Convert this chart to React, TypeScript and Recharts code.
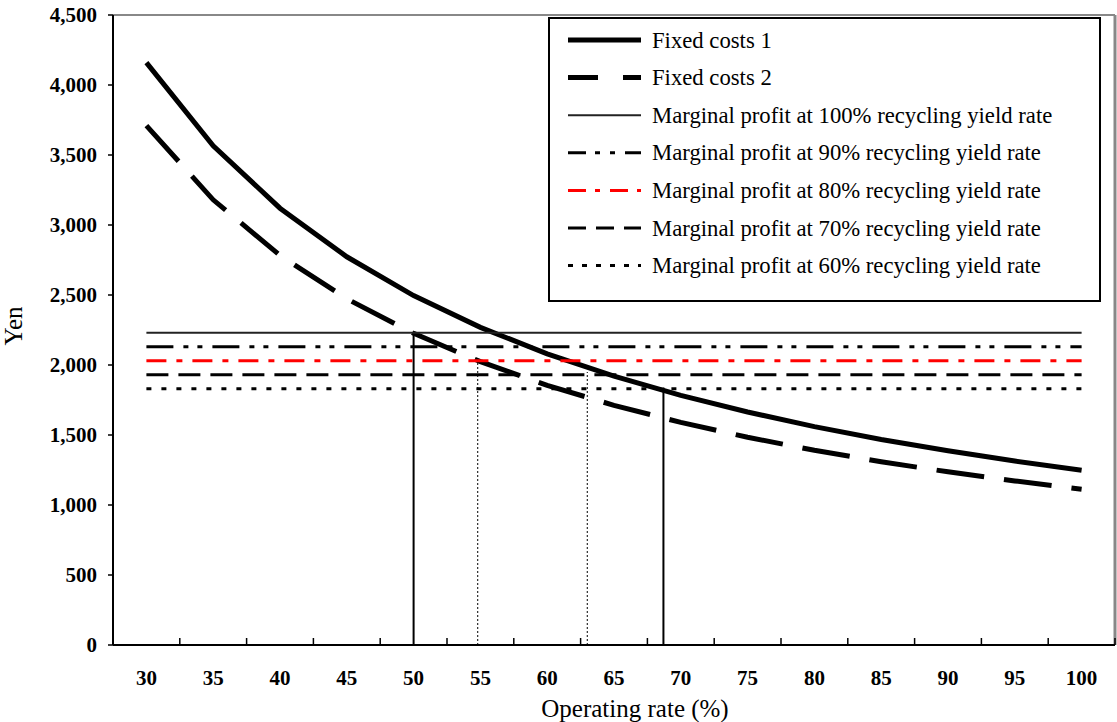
import React from "react";

// charts
import { LineChart, Line, XAxis, YAxis, ReferenceLine, Legend } from "recharts";

const rates = [30, 35, 40, 45, 50, 55, 60, 65, 70, 75, 80, 85, 90, 95, 100];
const fixedCosts1 = [4160, 3566, 3120, 2773, 2496, 2269, 2080, 1920, 1783, 1664, 1560, 1468, 1387, 1314, 1248];
const fixedCosts2 = [3710, 3180, 2783, 2473, 2226, 2024, 1855, 1712, 1590, 1484, 1391, 1309, 1237, 1172, 1113];
const yieldRates = [100, 90, 80, 70, 60];
const marginalProfits = [2230, 2130, 2030, 1930, 1830];
const yTicks = [0, 500, 1000, 1500, 2000, 2500, 3000, 3500, 4000, 4500];
const breakEvenRates = [50, 54.8, 63, 68.7];
const breakEvenLevels = [2230, 2030, 1950, 1840];

const FONT = "'Liberation Serif', 'Times New Roman', serif";

const data = rates.map((rate, i) => {
  const row: any = { rate, fc1: fixedCosts1[i], fc2: fixedCosts2[i] };
  yieldRates.forEach((y, j) => {
    row["mp" + y] = marginalProfits[j];
  });
  return row;
});

// line looks: plot dash vs legend sample dash
const series = [
  { key: "fc1", name: "Fixed costs 1", color: "#000", width: 5, dash: undefined, legendDash: undefined },
  { key: "fc2", name: "Fixed costs 2", color: "#000", width: 5, dash: "48 20", legendDash: "30 25" },
  ...yieldRates.map((y, j) => ({
    key: "mp" + y,
    name: `Marginal profit at ${y}% recycling yield rate`,
    color: y === 80 ? "#ff0000" : y === 100 ? "#222" : "#000",
    width: y === 100 ? 2 : 3,
    dash: [undefined, "27 10 5 9 5 10", "20 10 6 10", "22 10", "5 10"][j],
    legendDash: [undefined, "18 9 5 10 5 10", "18 9 5 10", "18 10", "5 9"][j],
  })),
];

const breakEvenStyles = [
  { stroke: "#000", width: 2, dash: undefined },
  { stroke: "#000", width: 1, dash: "2 2" },
  { stroke: "#000", width: 1, dash: "2 2" },
  { stroke: "#000", width: 2, dash: undefined },
];

function XTick(props: any) {
  const { x, y, payload } = props;
  return (
    <g>
      <text x={x} y={y + 40} textAnchor="middle" fontSize={21} fontWeight="bold" fill="#000">
        {payload.value}
      </text>
      <line x1={x + 33.4} x2={x + 33.4} y1={y} y2={y - 7} stroke="#000" strokeWidth={1.5} />
    </g>
  );
}

function renderLegend() {
  return (
    <div style={{ width: 553, height: 285, border: "2px solid #000", boxSizing: "border-box", background: "#fff" }}>
      <svg width={549} height={281} style={{ display: "block" }}>
        {series.map((s, i) => {
          const cy = 21 + i * 37.6;
          return (
            <g key={s.key}>
              <line x1={18} x2={91} y1={cy} y2={cy} stroke={s.color} strokeWidth={s.width} strokeDasharray={s.legendDash} />
              <text x={102} y={cy} dominantBaseline="central" fontSize={22.7} fill="#000" fontFamily={FONT}>
                {s.name}
              </text>
            </g>
          );
        })}
      </svg>
    </div>
  );
}

export default function App() {
  return (
    <div style={{ position: "absolute", left: 0, top: 0, fontFamily: FONT }}>
      <LineChart width={1117} height={722} data={data} margin={{ top: 15, right: 2, left: 0, bottom: 0 }}>
        <XAxis
          dataKey="rate"
          type="number"
          domain={[27.5, 102.5]}
          ticks={rates}
          interval={0}
          tick={<XTick />}
          tickLine={false}
          tickSize={0}
          tickMargin={0}
          height={77}
          axisLine={{ stroke: "#000", strokeWidth: 2 }}
          label={{
            content: ({ viewBox }: any) => (
              <text x={viewBox.x + viewBox.width / 2 + 21} y={717} textAnchor="middle" fontSize={25} fill="#000">
                Operating rate (%)
              </text>
            ),
          }}
        />
        <YAxis
          domain={[0, 4500]}
          ticks={yTicks}
          interval={0}
          width={113}
          tickSize={5}
          tickMargin={11}
          tickFormatter={(v: number) => v.toLocaleString("en-US")}
          tick={{ fill: "#000", fontSize: 21, fontWeight: "bold" }}
          tickLine={{ stroke: "#000", strokeWidth: 1.5 }}
          axisLine={{ stroke: "#000", strokeWidth: 2 }}
          label={{
            content: ({ viewBox }: any) => {
              const cx = 13;
              const cy = viewBox.y + viewBox.height / 2 - 4;
              return (
                <text x={cx} y={cy} transform={`rotate(-90 ${cx} ${cy})`} textAnchor="middle" dominantBaseline="central" fontSize={25} fill="#000">
                  Yen
                </text>
              );
            },
          }}
        />
        <ReferenceLine y={4500} stroke="#888" strokeWidth={2} />
        <ReferenceLine x={102.5} stroke="#888" strokeWidth={3} />
        {breakEvenRates.map((r, i) => (
          <ReferenceLine
            key={r}
            segment={[{ x: r, y: 0 }, { x: r, y: breakEvenLevels[i] }]}
            stroke={breakEvenStyles[i].stroke}
            strokeWidth={breakEvenStyles[i].width}
            strokeDasharray={breakEvenStyles[i].dash}
          />
        ))}
        {series.map((s) => (
          <Line
            key={s.key}
            type="linear"
            dataKey={s.key}
            name={s.name}
            stroke={s.color}
            strokeWidth={s.width}
            strokeDasharray={s.dash}
            dot={false}
            activeDot={false}
            isAnimationActive={false}
          />
        ))}
        <Legend
          content={renderLegend}
          layout="vertical"
          verticalAlign="middle"
          align="center"
          wrapperStyle={{ left: 548, top: 17, width: 553, height: 285 }}
        />
      </LineChart>
    </div>
  );
}
